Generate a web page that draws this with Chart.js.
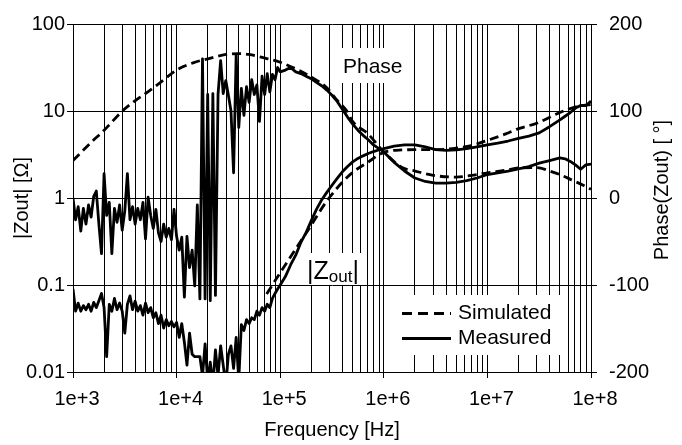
<!DOCTYPE html>
<html>
<head>
<meta charset="utf-8">
<script src="https://cdn.jsdelivr.net/npm/chart.js@4.4.0/dist/chart.umd.min.js"></script>
<style>
  html, body { margin: 0; padding: 0; background: #fff; }
  #wrap { width: 682px; height: 445px; }
</style>
</head>
<body>
<div id="wrap"><canvas id="myChart" width="682" height="445"></canvas></div>
<script>
// axis ticks
const xTickValues = [1e3, 1e4, 1e5, 1e6, 1e7, 1e8];
const xTickLabels = ['1e+3', '1e+4', '1e+5', '1e+6', '1e+7', '1e+8'];
const zTickValues = [0.01, 0.1, 1, 10, 100];
const zTickLabels = ['0.01', '0.1', '1', '10', '100'];
const phaseTickValues = [-200, -100, 0, 100, 200];

// simulated phase [deg]
const simPhaseFreq = [1e3, 1.5e3, 2e3, 3e3, 4e3, 5e3, 7e3, 1e4, 1.5e4, 2e4, 3e4, 4e4, 5e4, 7e4, 1e5, 1.5e5, 2e5, 2.8e5, 3.5e5, 4.4e5, 5e5, 7e5, 1e6, 1.5e6, 2e6, 3e6, 5e6, 7e6, 1e7, 1.5e7, 2e7, 3e7, 4e7, 5e7, 7e7, 8.5e7, 1e8];
const simPhase = [43, 64, 78, 100, 112, 120, 133, 147, 156, 160, 165, 166, 165, 161, 156, 147, 139, 127, 113, 100, 88, 74, 53, 35, 31, 26, 24, 26, 29, 32, 34.5, 35, 31, 27, 19, 14.5, 10];

// simulated |Zout| [ohm]
const simZFreq = [7.4e4, 1e5, 1.5e5, 2e5, 2.5e5, 3e5, 4e5, 5e5, 7e5, 1e6, 1.5e6, 2e6, 3e6, 5e6, 7e6, 1e7, 1.5e7, 2e7, 3e7, 5e7, 7e7, 1e8];
const simZ = [0.079, 0.138, 0.29, 0.49, 0.75, 1.02, 1.53, 1.97, 2.57, 3.35, 3.57, 3.59, 3.59, 3.74, 4.0, 4.6, 5.45, 6.27, 7.24, 9.6, 11.1, 11.9];

// measured (shared frequency grid)
const measFreq = [
  1000, 1059, 1122, 1189, 1259, 1334, 1413, 1496, 1585, 1679,
  1778, 1884, 1995, 2113, 2239, 2371, 2512, 2661, 2818, 2985,
  3162, 3350, 3548, 3758, 3981, 4217, 4467, 4732, 5012, 5309,
  5623, 5957, 6310, 6683, 7079, 7499, 7943, 8414, 8913, 9441,
  10000, 10593, 11220, 11885, 12589, 13335, 14125, 14962, 15849, 16788,
  17783, 18836, 19953, 21135, 22387, 23714, 25119, 26607, 28184, 29854,
  31623, 33497, 35481, 37584, 39811, 42170, 44668, 47315, 50119, 53088,
  56234, 59566, 63096, 66834, 70795, 74989, 79433, 84140, 89125, 94406,
  100000, 112202, 125893, 141254, 158489, 177828, 199526, 223872, 251189, 281838,
  316228, 354813, 398107, 446684, 501187, 562341, 630957, 707946, 794328, 891251,
  1e6, 1258925, 1584893, 1995262, 2511886, 3162278, 3981072, 5011872, 6309573, 7943282,
  1e7, 12589254, 15848932, 19952623, 25118864, 31622777, 39810717, 50118723, 56234133, 63095734,
  70794578, 79432823, 89125094, 1e8
];
const measZ = [
  0.09, 0.05, 0.062, 0.05, 0.058, 0.052, 0.06, 0.05, 0.063, 0.055,
  0.066, 0.08, 0.055, 0.015, 0.06, 0.05, 0.07, 0.052, 0.062, 0.05,
  0.028, 0.06, 0.075, 0.052, 0.065, 0.05, 0.058, 0.045, 0.062, 0.048,
  0.055, 0.042, 0.048, 0.036, 0.045, 0.032, 0.04, 0.034, 0.038, 0.033,
  0.037, 0.025, 0.036, 0.022, 0.012, 0.028, 0.016, 0.015, 0.015, 0.015,
  0.009, 0.021, 0.008, 0.013, 0.007, 0.018, 0.009, 0.02, 0.012, 0.007,
  0.016, 0.02, 0.011, 0.025, 0.008, 0.035, 0.03, 0.04, 0.036, 0.042,
  0.04, 0.05, 0.045, 0.055, 0.05, 0.06, 0.055, 0.07, 0.08, 0.09,
  0.1, 0.125, 0.17, 0.22, 0.31, 0.4, 0.55, 0.74, 0.95, 1.16,
  1.4, 1.68, 2.0, 2.3, 2.6, 2.85, 3.05, 3.25, 3.42, 3.56,
  3.7, 3.95, 4.07, 4.07, 3.86, 3.6, 3.53, 3.58, 3.7, 3.88,
  4.08, 4.28, 4.52, 4.85, 5.15, 5.6, 6.6, 7.9, 8.7, 9.6,
  10.8, 11.6, 11.5, 13
];
const measPhase = [
  0, -25, -10, -38, -12, -30, -8, -22, 2, 8,
  -30, -64, 28, -20, -5, -64, -12, -28, -8, -37,
  -15, 28, -25, -10, -30, -12, -25, -5, -47, 1,
  -20, -35, -13, -40, -50, -30, -45, -35, -48, -13,
  -44, -60, -45, -114, -44, -80, -60, -101, -8, -116,
  160, -116, 119, -118, 120, -112, 119, 158, 120, 135,
  118, 100, 29, 165, 81, 126, 95, 128, 110, 136,
  119, 130, 88, 140, 119, 143, 122, 142, 136, 150,
  145, 147, 150, 145, 143, 140, 137, 133, 129, 124,
  118, 111, 102, 93, 85, 78, 72, 67, 61, 57,
  53, 41, 31, 23, 19, 17, 17, 18, 20, 23,
  27, 29, 31, 33.5, 36, 40, 43, 46, 45, 42,
  38, 33, 38, 39
];

const FONT = "'Liberation Sans', Arial, sans-serif";
const toPoints = (xs, ys) => xs.map((x, i) => ({ x: x, y: ys[i] }));
const isDecade = v => Math.abs(Math.log10(v) - Math.round(Math.log10(v))) < 1e-6;

// white-backed labels and legend inside the plot
const overlay = {
  id: 'overlay',
  beforeDatasetsDraw(chart) {
    const c = chart.ctx;
    c.save();
    c.fillStyle = '#fff';
    c.fillRect(336, 48, 70, 35);
    c.fillRect(298, 253, 67, 32);
    c.fillRect(387, 295, 175, 60);

    c.fillStyle = '#000';
    c.textBaseline = 'alphabetic';
    c.font = '21px ' + FONT;
    c.fillText('Phase', 343, 72.5);

    c.font = '25px ' + FONT;
    c.fillText('|Z', 307, 278.5);
    const w1 = c.measureText('|Z').width;
    c.font = '17px ' + FONT;
    c.fillText('out', 307 + w1, 282);
    const w2 = c.measureText('out').width;
    c.font = '25px ' + FONT;
    c.fillText('|', 307 + w1 + w2, 278.5);

    c.strokeStyle = '#000';
    c.lineWidth = 2.8;
    c.setLineDash([10, 6]);
    c.beginPath(); c.moveTo(402, 313.5); c.lineTo(451, 313.5); c.stroke();
    c.setLineDash([]);
    c.beginPath(); c.moveTo(402, 338.5); c.lineTo(451, 338.5); c.stroke();
    c.font = '21px ' + FONT;
    c.textBaseline = 'middle';
    c.fillText('Simulated', 458, 313);
    c.fillText('Measured', 458, 338);
    c.restore();
  },
  afterDraw(chart) {
    const c = chart.ctx;
    c.save();
    c.translate(662, 190);
    c.rotate(-Math.PI / 2);
    c.fillStyle = '#000';
    c.font = '20px ' + FONT;
    c.textAlign = 'center';
    c.textBaseline = 'middle';
    c.fillText('Phase(Zout) [ °]', 0, 0);
    c.restore();
  }
};

const lineStyle = (dashed) => ({
  borderColor: '#000',
  borderWidth: 2.8,
  borderDash: dashed ? [9, 5] : [],
  borderJoinStyle: 'round',
  pointRadius: 0,
  fill: false,
  clip: 0
});

var ctx = document.getElementById('myChart').getContext('2d');
var myChart = new Chart(ctx, {
  type: 'line',
  data: {
    datasets: [
      Object.assign({ label: 'Simulated phase', data: toPoints(simPhaseFreq, simPhase), yAxisID: 'yPhase', cubicInterpolationMode: 'monotone' }, lineStyle(true)),
      Object.assign({ label: 'Simulated |Zout|', data: toPoints(simZFreq, simZ), yAxisID: 'y', cubicInterpolationMode: 'monotone' }, lineStyle(true)),
      Object.assign({ label: 'Measured phase', data: toPoints(measFreq, measPhase), yAxisID: 'yPhase' }, lineStyle(false)),
      Object.assign({ label: 'Measured |Zout|', data: toPoints(measFreq, measZ), yAxisID: 'y' }, lineStyle(false))
    ]
  },
  options: {
    responsive: false,
    animation: false,
    layout: { padding: { top: 15, left: 0, right: 0, bottom: 0 } },
    plugins: { legend: { display: false }, tooltip: { enabled: false } },
    scales: {
      x: {
        type: 'logarithmic',
        position: 'bottom',
        min: 1e3,
        max: 1e8,
        afterBuildTicks: s => {
          const t = [];
          for (let i = 0; i < xTickValues.length - 1; i++) {
            for (let m = 1; m <= 9; m++) t.push({ value: xTickValues[i] * m });
          }
          t.push({ value: xTickValues[xTickValues.length - 1] });
          s.ticks = t;
        },
        afterFit: s => { s.height = 73; },
        ticks: {
          autoSkip: false, maxRotation: 0, color: '#000', padding: 9, labelOffset: 4,
          font: { family: FONT, size: 20 },
          callback: v => {
            const i = xTickValues.findIndex(t => Math.abs(t - v) / t < 1e-9);
            return i >= 0 ? xTickLabels[i] : '';
          }
        },
        grid: {
          color: '#000', lineWidth: 1, tickLength: 6,
          tickColor: c => (c.tick && isDecade(c.tick.value)) ? '#000' : 'rgba(0,0,0,0)'
        },
        border: { color: '#000', width: 1 },
        title: { display: true, text: 'Frequency [Hz]', color: '#000', font: { family: FONT, size: 20 }, padding: { top: 0, bottom: 3 } }
      },
      y: {
        type: 'logarithmic',
        position: 'left',
        min: 0.01,
        max: 100,
        afterBuildTicks: s => { s.ticks = zTickValues.map(v => ({ value: v })); },
        afterFit: s => { s.width = 73; },
        ticks: {
          color: '#000', padding: 2, font: { family: FONT, size: 20 },
          callback: (v, i) => zTickLabels[i]
        },
        grid: { color: '#000', lineWidth: 1, tickLength: 6 },
        border: { color: '#000', width: 1 },
        title: { display: true, text: '|Zout| [Ω]', color: '#000', font: { family: FONT, size: 20 }, padding: { top: 10, bottom: 0 } }
      },
      yPhase: {
        type: 'linear',
        position: 'right',
        min: -200,
        max: 200,
        afterBuildTicks: s => { s.ticks = phaseTickValues.map(v => ({ value: v })); },
        afterFit: s => { s.width = 91; },
        ticks: {
          color: '#000', padding: 12, font: { family: FONT, size: 20 },
          callback: v => String(v)
        },
        grid: { drawOnChartArea: false, color: '#000', lineWidth: 1, tickLength: 6 },
        border: { color: '#000', width: 1 }
      }
    }
  },
  plugins: [overlay]
});
</script>
</body>
</html>
